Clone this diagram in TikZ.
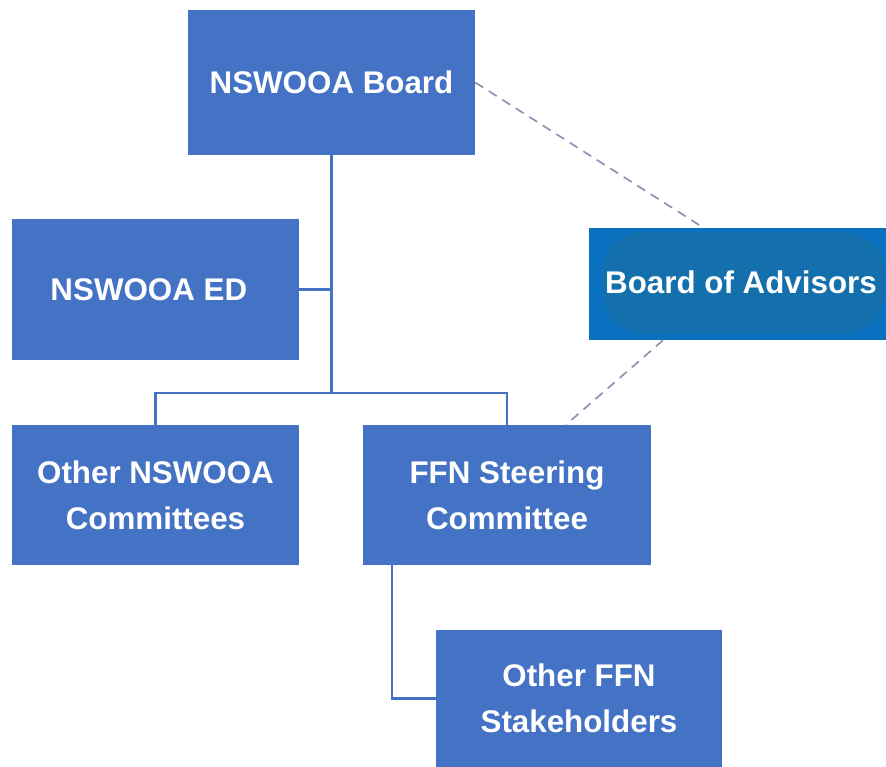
\documentclass[tikz,border=0pt]{standalone}
\usepackage{fontspec}
\setmainfont{Liberation Sans}
\usetikzlibrary{calc}
\definecolor{boxblue}{HTML}{4472C4}
\definecolor{advblue}{HTML}{0A70C0}
\definecolor{advinner}{HTML}{1470AC}
\definecolor{dashgray}{HTML}{8A96B4}
\tikzset{
  orgbox/.style={draw=none, fill=boxblue, text=white, align=center,
    font=\fontsize{23.5}{34.5}\selectfont\bfseries, inner sep=0pt},
  link/.style={draw=boxblue, line width=2.2pt},
  advlink/.style={draw=dashgray, line width=1.3pt, dash pattern=on 7pt off 5pt}
}
\begin{document}
\begin{tikzpicture}[x=0.75pt,y=-0.75pt]
\useasboundingbox (0,0) rectangle (886,767);
\node[orgbox, minimum width=215.25pt, minimum height=108.75pt] (board) at (331.5,82.5) {NSWOOA Board};
\node[orgbox, minimum width=215.25pt, minimum height=105.75pt] (ed) at (155.5,289.5) {\hspace*{-10pt}NSWOOA ED};
\node[orgbox, fill=advblue, minimum width=222.75pt, minimum height=84pt] (adv) at (737.5,284) {};
\fill[advinner, rounded corners=30pt] (603,232) rectangle (884,334);
\node[text=white, font=\fontsize{23.5}{34.5}\selectfont\bfseries, inner sep=0pt] (advtext) at (741,282) {Board of Advisors};
\node[orgbox, minimum width=215.25pt, minimum height=105pt] (other) at (155.5,495) {Other NSWOOA\\Committees};
\node[orgbox, minimum width=216pt, minimum height=105pt] (ffn) at (507,495) {FFN Steering\\Committee};
\node[orgbox, minimum width=214.5pt, minimum height=102.75pt] (stake) at (579,698.5) {Other FFN\\Stakeholders};
\coordinate (bus) at (331.5,393);
\coordinate (ffnleg) at (392,698.5);
\draw[link] (board.south) -- (bus);
\draw[link] (ed.east) -- (ed.east -| bus);
\draw[link] (other.north) |- (bus) -| (ffn.north);
\draw[link] (ffnleg |- ffn.south) -- (ffnleg) -- (stake.west);
\draw[advlink] (board.east) -- ([xshift=-25.5pt]adv.north);
\draw[advlink] ([xshift=-55.9pt]adv.south) -- ([xshift=44.25pt]ffn.north);
\end{tikzpicture}
\end{document}
